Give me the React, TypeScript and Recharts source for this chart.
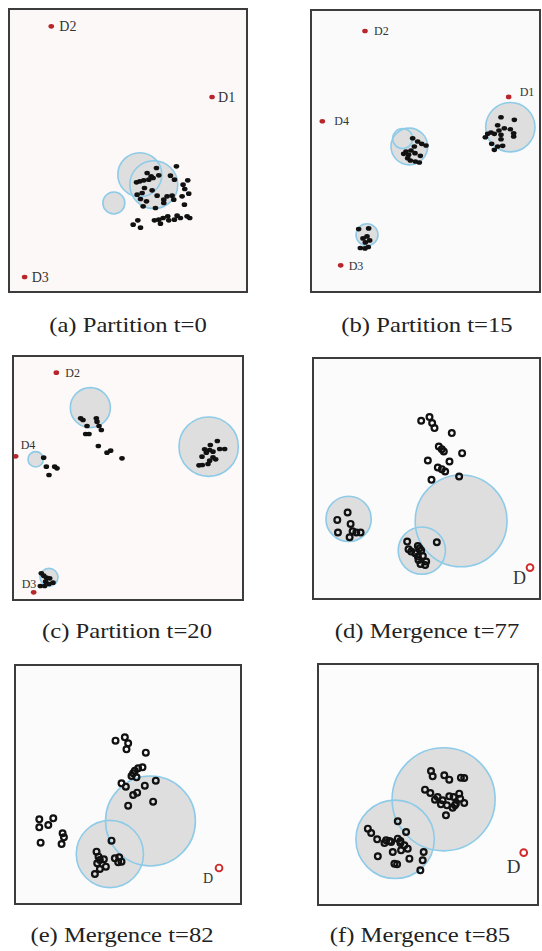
import React from 'react';
import { ScatterChart, Scatter, XAxis, YAxis } from 'recharts';

type Pt = [number, number];
type Sink = [string, number, number];
type Disc = [number, number, number];

// field size of every panel, in its own grid units
const A_FIELD: Pt = [721, 855];
const B_FIELD: Pt = [693, 853];
const C_FIELD: Pt = [696, 738];
const D_FIELD: Pt = [688, 728];
const E_FIELD: Pt = [685, 723];
const F_FIELD: Pt = [668, 729];

// (a) Partition t=0
const A_SINKS: Sink[] = [['D2', 130, 55], ['D1', 613, 267], ['D3', 50, 807]];
const A_DISCS: Disc[] = [[396, 500, 66], [438, 530, 72], [318, 585, 33]];
const A_NODES: Pt[] = [
  [506, 475], [446, 480], [418, 495], [430, 505], [453, 502], [436, 510], [488, 503], [500, 515],
  [386, 523], [396, 520], [408, 517], [423, 515], [540, 517], [526, 530], [531, 543], [543, 557],
  [523, 565], [410, 540], [403, 555], [433, 547], [448, 563], [478, 565], [493, 563], [498, 575],
  [398, 573], [416, 580], [406, 595], [443, 600], [468, 585], [530, 590], [468, 575], [388, 560],
  [538, 625], [546, 630], [518, 630], [500, 635], [483, 637], [466, 630], [453, 635], [440, 637],
  [458, 647], [376, 650], [398, 659], [390, 637], [480, 625], [508, 623],
];

// (b) Partition t=15
const B_SINKS: Sink[] = [['D2', 165, 66], ['D1', 596, 264], ['D4', 37, 337], ['D3', 92, 770]];
const B_DISCS: Disc[] = [[601, 355, 74], [298, 413, 55], [278, 389, 30], [171, 678, 33]];
const B_NODES: Pt[] = [
  [573, 325], [613, 333], [563, 349], [583, 358], [601, 361], [543, 371], [533, 375], [553, 375],
  [573, 378], [611, 383], [526, 385], [573, 391], [545, 405], [563, 413], [553, 423], [578, 411],
  [567, 365], [611, 373],
  [308, 388], [323, 398], [335, 405], [313, 413], [303, 425], [288, 428], [281, 435], [296, 438],
  [315, 433], [331, 441], [301, 455], [316, 458], [328, 461], [348, 410], [293, 448],
  [146, 661], [176, 659], [171, 683], [159, 689], [179, 695], [166, 701], [151, 718], [165, 719],
  [175, 715],
];

// (c) Partition t=20
const C_SINKS: Sink[] = [['D2', 133, 53], ['D4', 11, 304], ['D3', 65, 712]];
const C_DISCS: Disc[] = [[235, 158, 60], [590, 275, 89], [71, 313, 23], [111, 667, 27]];
const C_NODES: Pt[] = [
  [206, 190], [213, 195], [253, 190], [255, 200], [261, 213], [225, 213], [221, 237], [231, 237],
  [268, 225], [259, 273], [285, 293], [296, 287], [330, 310],
  [95, 308], [103, 335], [128, 335], [135, 340], [111, 360],
  [616, 258], [595, 270], [578, 283], [593, 285], [623, 282], [638, 282], [603, 290], [583, 293],
  [570, 305], [603, 307], [593, 317], [588, 327], [561, 331], [571, 330], [611, 313],
  [88, 655], [95, 662], [103, 668], [113, 670], [101, 680], [111, 687], [123, 683], [85, 693],
  [98, 693],
];

// (d) Mergence t=77
const D_SINKS: Sink[] = [['D', 655, 631]];
const D_DISCS: Disc[] = [[448, 491, 138], [110, 485, 68], [330, 580, 71]];
const D_NODES: Pt[] = [
  [328, 191], [353, 180], [361, 198], [368, 213], [420, 228], [381, 268], [390, 276], [396, 283],
  [451, 288], [348, 310], [413, 313], [378, 331], [390, 336], [400, 343], [359, 368], [442, 358],
  [107, 466], [76, 488], [116, 500], [78, 526], [122, 522], [133, 526], [146, 526], [113, 540],
  [286, 553], [290, 576], [318, 566], [323, 573], [328, 580], [310, 588], [318, 598], [333, 596],
  [343, 613], [326, 620], [340, 623], [375, 555], [320, 608], [298, 583],
];

// (e) Mergence t=82
const E_SINKS: Sink[] = [['D', 616, 612]];
const E_DISCS: Disc[] = [[410, 471, 135], [288, 570, 101]];
const E_NODES: Pt[] = [
  [305, 230], [333, 220], [343, 238], [338, 256], [396, 266], [363, 320], [373, 313], [386, 310],
  [358, 328], [353, 336], [368, 340], [323, 358], [336, 368], [393, 365], [426, 350], [358, 393],
  [370, 386], [343, 425], [418, 413],
  [76, 466], [76, 490], [103, 483], [118, 463], [146, 508], [150, 520], [143, 540], [80, 536],
  [293, 530], [248, 563], [254, 578], [270, 586], [250, 598], [276, 608], [258, 615], [243, 630],
  [303, 583], [316, 580], [323, 593], [313, 595], [258, 588],
];

// (f) Mergence t=85
const F_SINKS: Sink[] = [['D', 622, 569]];
const F_DISCS: Disc[] = [[381, 409, 155], [235, 529, 118]];
const F_NODES: Pt[] = [
  [343, 324], [348, 340], [383, 337], [398, 350], [433, 344], [443, 345], [325, 380], [341, 390],
  [355, 410], [363, 402], [378, 412], [373, 424], [398, 400], [411, 402], [428, 392], [431, 407],
  [443, 420], [415, 427], [391, 427], [388, 457], [408, 434], [418, 422],
  [153, 497], [243, 475], [268, 507], [181, 529], [208, 532], [218, 534], [223, 537], [243, 527],
  [251, 534], [263, 547], [251, 540], [228, 567], [273, 557], [183, 580], [233, 602], [241, 604],
  [278, 587], [321, 567], [318, 592], [311, 622], [163, 510], [203, 540], [253, 562],
];

const LABEL_OFFSETS: Record<string, [number, number]> = {
  'a-D2': [8, 5], 'a-D1': [6, 5], 'a-D3': [7, 5],
  'b-D2': [9, 4], 'b-D1': [11, -1], 'b-D4': [12, 4], 'b-D3': [8, 5],
  'c-D2': [9, 4], 'c-D4': [5, -7], 'c-D3': [-12, -4],
  'd-D': [-17, 16], 'e-D': [-16, 15], 'f-D': [-17, 20],
};

const SERIF = '"Liberation Serif", "Times New Roman", serif';

interface PanelProps {
  id: string;
  left: number;
  top: number;
  width: number;
  height: number;
  field: Pt;
  sinks: Sink[];
  discs: Disc[];
  nodes: Pt[];
  late: boolean;
  bg: string;
  labelSize: number;
  caption: string;
  captionX: number;
  captionY: number;
}

function Panel(p: PanelProps) {
  const unit = p.width / p.field[0];
  const discData = p.discs.map(([x, y, r]) => ({ x, y, r }));
  const nodeData = p.nodes.map(([x, y]) => ({ x, y }));
  const sinkData = p.sinks.map(([name, x, y]) => ({ name, x, y }));

  return (
    <>
      <div style={{ position: 'absolute', left: p.left, top: p.top, width: p.width, height: p.height, background: p.bg }}>
        <ScatterChart width={p.width} height={p.height} margin={{ top: 0, right: 0, bottom: 0, left: 0 }}>
          <XAxis type="number" dataKey="x" domain={[0, p.field[0]]} hide />
          <YAxis type="number" dataKey="y" domain={[0, p.field[1]]} reversed hide />
          <Scatter
            data={discData}
            isAnimationActive={false}
            shape={(s: any) => <circle cx={s.cx} cy={s.cy} r={s.payload.r * unit} fill="#dedede" />}
          />
          <Scatter
            data={discData}
            isAnimationActive={false}
            shape={(s: any) => (
              <circle cx={s.cx} cy={s.cy} r={s.payload.r * unit} fill="none" stroke="#8ecbe8" strokeWidth={1.6} />
            )}
          />
          <Scatter
            data={nodeData}
            isAnimationActive={false}
            shape={(s: any) =>
              p.late ? (
                <circle cx={s.cx} cy={s.cy} r={2.9} fill="none" stroke="#111" strokeWidth={2.2} />
              ) : (
                <ellipse cx={s.cx} cy={s.cy} rx={2.8} ry={2.3} fill="#111" />
              )
            }
          />
          <Scatter
            data={sinkData}
            isAnimationActive={false}
            shape={(s: any) => {
              const off = LABEL_OFFSETS[`${p.id}-${s.payload.name}`] || [8, 4];
              return (
                <g>
                  {p.late ? (
                    <circle cx={s.cx} cy={s.cy} r={3.4} fill="#fff" stroke="#d02a2a" strokeWidth={1.9} />
                  ) : (
                    <ellipse cx={s.cx} cy={s.cy} rx={2.8} ry={2.3} fill="#b8262b" />
                  )}
                  <text
                    x={s.cx + off[0]}
                    y={s.cy + off[1]}
                    fontFamily={SERIF}
                    fontSize={p.labelSize}
                    fill="#333"
                  >
                    {s.payload.name}
                  </text>
                </g>
              );
            }}
          />
        </ScatterChart>
        <div
          style={{
            position: 'absolute',
            left: 0,
            top: 0,
            width: p.width,
            height: p.height,
            boxSizing: 'border-box',
            border: '2px solid #3c3c3c',
            pointerEvents: 'none',
          }}
        />
      </div>
      <div
        style={{
          position: 'absolute',
          left: p.captionX,
          top: p.captionY,
          transform: 'translate(-50%, -50%) scaleX(1.12)',
          fontFamily: SERIF,
          fontSize: 22,
          color: '#222',
          whiteSpace: 'nowrap',
        }}
      >
        {p.caption}
      </div>
    </>
  );
}

export default function App() {
  return (
    <div style={{ position: 'absolute', left: 0, top: 0, width: 542, height: 951, background: '#fff', overflow: 'hidden' }}>
      <Panel id="a" left={8} top={8} width={240} height={285} field={A_FIELD} sinks={A_SINKS} discs={A_DISCS}
        nodes={A_NODES} late={false} bg="#fcf8f7" labelSize={14} caption="(a) Partition t=0" captionX={128} captionY={325} />
      <Panel id="b" left={310} top={9} width={231} height={284} field={B_FIELD} sinks={B_SINKS} discs={B_DISCS}
        nodes={B_NODES} late={false} bg="#fafafa" labelSize={12} caption="(b) Partition t=15" captionX={427} captionY={325} />
      <Panel id="c" left={12} top={355} width={232} height={246} field={C_FIELD} sinks={C_SINKS} discs={C_DISCS}
        nodes={C_NODES} late={false} bg="#fcf9f8" labelSize={12} caption="(c) Partition t=20" captionX={127} captionY={631} />
      <Panel id="d" left={312} top={357} width={229} height={243} field={D_FIELD} sinks={D_SINKS} discs={D_DISCS}
        nodes={D_NODES} late bg="#fbfbfb" labelSize={18} caption="(d) Mergence t=77" captionX={427} captionY={631} />
      <Panel id="e" left={14} top={664} width={228} height={241} field={E_FIELD} sinks={E_SINKS} discs={E_DISCS}
        nodes={E_NODES} late bg="#fbfbfb" labelSize={14} caption="(e) Mergence t=82" captionX={122} captionY={935} />
      <Panel id="f" left={317} top={663} width={222} height={243} field={F_FIELD} sinks={F_SINKS} discs={F_DISCS}
        nodes={F_NODES} late bg="#fcfcfc" labelSize={19} caption="(f) Mergence t=85" captionX={420} captionY={935} />
    </div>
  );
}
